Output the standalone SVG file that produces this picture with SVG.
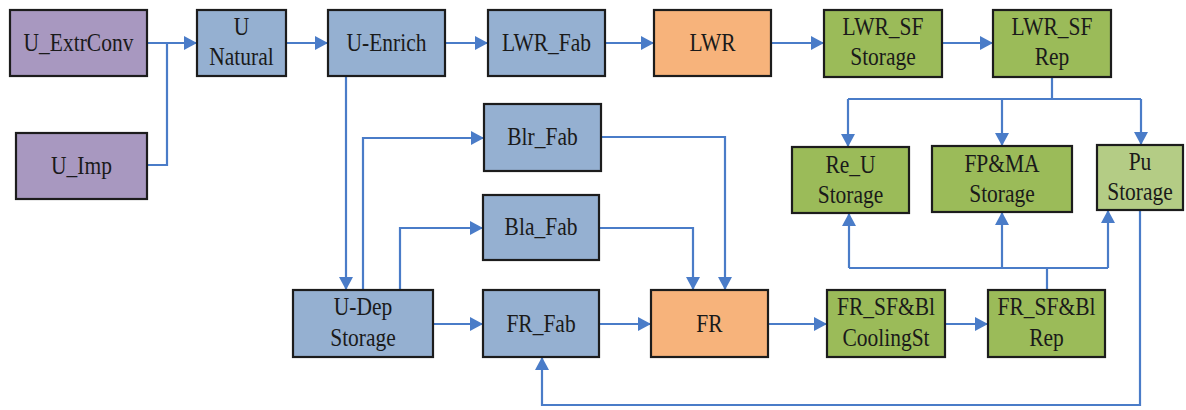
<svg xmlns="http://www.w3.org/2000/svg" width="1186" height="410" viewBox="0 0 1186 410">
<style>
.box{stroke:#1c1c1c;stroke-width:2.2}
.pur{fill:#A898C0}
.blu{fill:#95B0D1}
.org{fill:#F7B37B}
.grn{fill:#9BBB59}
.lgr{fill:#B4CC85}
text{font-family:'Liberation Serif','Times New Roman',Times,serif;font-size:25px;fill:#1a1a1a;text-anchor:middle}
.c{fill:none;stroke:#4A7CC8;stroke-width:2.2}
.a{marker-end:url(#ah)}
</style>
<defs>
<marker id="ah" markerUnits="userSpaceOnUse" viewBox="0 0 13 14" refX="13" refY="7" markerWidth="13" markerHeight="14" orient="auto">
<path d="M0,0 L13,7 L0,14 z" fill="#4A7CC8"/>
</marker>
</defs>
<rect width="1186" height="410" fill="#ffffff"/>
<g id="connectors">
<path class="c a" d="M147,43 H197"/>
<path class="c" d="M147,165 H167 V43"/>
<path class="c a" d="M286,43 H328"/>
<path class="c a" d="M445,43 H488"/>
<path class="c a" d="M605,43 H654"/>
<path class="c a" d="M771,43 H824"/>
<path class="c a" d="M942,43 H993"/>
<path class="c" d="M1052,77 V99 M848,99 H1141"/>
<path class="c a" d="M848,99 V147"/>
<path class="c a" d="M1002,99 V146"/>
<path class="c a" d="M1141,99 V145"/>
<path class="c a" d="M346,76 V290"/>
<path class="c a" d="M363,290 V138 H484"/>
<path class="c a" d="M400,290 V228 H483"/>
<path class="c a" d="M433,324 H483"/>
<path class="c a" d="M599,324 H651"/>
<path class="c a" d="M599,228 H693 V290"/>
<path class="c a" d="M601,137 H725 V290"/>
<path class="c a" d="M768,324 H827"/>
<path class="c a" d="M945,324 H988"/>
<path class="c" d="M1047,290 V268 M849,268 H1108"/>
<path class="c a" d="M849,268 V213"/>
<path class="c a" d="M1002,268 V212"/>
<path class="c a" d="M1108,268 V210"/>
<path class="c a" d="M1140,210 V405 H542 V357"/>
</g>
<g id="U_ExtrConv"><rect class="box pur" x="10" y="10" width="137" height="66"/><text font-family="Liberation Serif, serif" transform="translate(78.5,51) scale(0.86,1)">U_ExtrConv</text></g>
<g id="U_Imp"><rect class="box pur" x="16" y="133" width="131" height="66"/><text font-family="Liberation Serif, serif" transform="translate(81.5,174) scale(0.86,1)">U_Imp</text></g>
<g id="U_Natural"><rect class="box blu" x="197" y="10" width="89" height="66"/><text font-family="Liberation Serif, serif" transform="translate(241.5,35) scale(0.86,1)">U</text><text font-family="Liberation Serif, serif" transform="translate(241.5,65) scale(0.86,1)">Natural</text></g>
<g id="U_Enrich"><rect class="box blu" x="328" y="10" width="117" height="66"/><text font-family="Liberation Serif, serif" transform="translate(386.5,51) scale(0.86,1)">U-Enrich</text></g>
<g id="LWR_Fab"><rect class="box blu" x="488" y="10" width="117" height="66"/><text font-family="Liberation Serif, serif" transform="translate(546.5,51) scale(0.86,1)">LWR_Fab</text></g>
<g id="LWR"><rect class="box org" x="654" y="10" width="117" height="66"/><text font-family="Liberation Serif, serif" transform="translate(712.5,51) scale(0.86,1)">LWR</text></g>
<g id="LWR_SF_Storage"><rect class="box grn" x="824" y="10" width="118" height="67"/><text font-family="Liberation Serif, serif" transform="translate(883,35) scale(0.86,1)">LWR_SF</text><text font-family="Liberation Serif, serif" transform="translate(883,65) scale(0.86,1)">Storage</text></g>
<g id="LWR_SF_Rep"><rect class="box grn" x="993" y="10" width="118" height="67"/><text font-family="Liberation Serif, serif" transform="translate(1052,35) scale(0.86,1)">LWR_SF</text><text font-family="Liberation Serif, serif" transform="translate(1052,65) scale(0.86,1)">Rep</text></g>
<g id="Re_U_Storage"><rect class="box grn" x="792" y="147" width="117" height="66"/><text font-family="Liberation Serif, serif" transform="translate(850.5,173) scale(0.86,1)">Re_U</text><text font-family="Liberation Serif, serif" transform="translate(850.5,203) scale(0.86,1)">Storage</text></g>
<g id="FPMA_Storage"><rect class="box grn" x="932" y="146" width="140" height="66"/><text font-family="Liberation Serif, serif" transform="translate(1002,172) scale(0.86,1)">FP&amp;MA</text><text font-family="Liberation Serif, serif" transform="translate(1002,202) scale(0.86,1)">Storage</text></g>
<g id="Pu_Storage"><rect class="box lgr" x="1097" y="145" width="86" height="65"/><text font-family="Liberation Serif, serif" transform="translate(1140,170) scale(0.86,1)">Pu</text><text font-family="Liberation Serif, serif" transform="translate(1140,200) scale(0.86,1)">Storage</text></g>
<g id="Blr_Fab"><rect class="box blu" x="484" y="104" width="117" height="67"/><text font-family="Liberation Serif, serif" transform="translate(542.5,145) scale(0.86,1)">Blr_Fab</text></g>
<g id="Bla_Fab"><rect class="box blu" x="483" y="195" width="116" height="65"/><text font-family="Liberation Serif, serif" transform="translate(541,235) scale(0.86,1)">Bla_Fab</text></g>
<g id="U_Dep_Storage"><rect class="box blu" x="293" y="290" width="140" height="67"/><text font-family="Liberation Serif, serif" transform="translate(363,315) scale(0.86,1)">U-Dep</text><text font-family="Liberation Serif, serif" transform="translate(363,346) scale(0.86,1)">Storage</text></g>
<g id="FR_Fab"><rect class="box blu" x="483" y="290" width="116" height="67"/><text font-family="Liberation Serif, serif" transform="translate(541,332) scale(0.86,1)">FR_Fab</text></g>
<g id="FR"><rect class="box org" x="651" y="290" width="117" height="67"/><text font-family="Liberation Serif, serif" transform="translate(709.5,332) scale(0.86,1)">FR</text></g>
<g id="FR_SF_Bl_CoolingSt"><rect class="box grn" x="827" y="290" width="118" height="67"/><text font-family="Liberation Serif, serif" transform="translate(886,315) scale(0.86,1)">FR_SF&amp;Bl</text><text font-family="Liberation Serif, serif" transform="translate(886,346) scale(0.86,1)">CoolingSt</text></g>
<g id="FR_SF_Bl_Rep"><rect class="box grn" x="988" y="290" width="117" height="67"/><text font-family="Liberation Serif, serif" transform="translate(1046.5,315) scale(0.86,1)">FR_SF&amp;Bl</text><text font-family="Liberation Serif, serif" transform="translate(1046.5,346) scale(0.86,1)">Rep</text></g>
</svg>
